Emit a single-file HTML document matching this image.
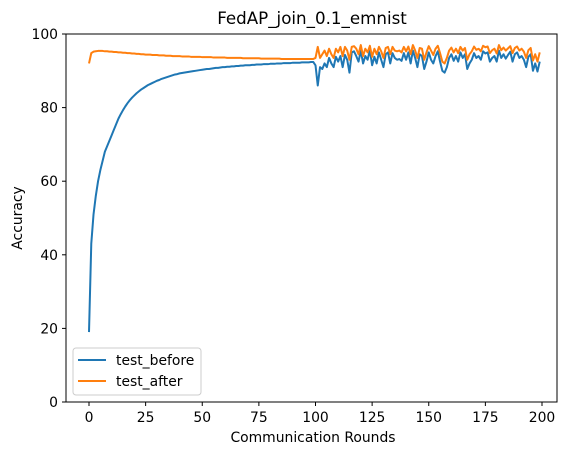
<!DOCTYPE html>
<html><head><meta charset="utf-8"><style>
body{margin:0;background:#fff;font-family:"Liberation Sans","DejaVu Sans",sans-serif;}
svg text{font-family:"DejaVu Sans","Liberation Sans",sans-serif;}
</style></head><body>
<svg id="chart" width="571" height="455" xmlns="http://www.w3.org/2000/svg">
<rect width="571" height="455" fill="#fff"/>
<text x="312" y="24" font-size="16.7" text-anchor="middle">FedAP_join_0.1_emnist</text>
<g id="plot"></g>
<rect x="66" y="34" width="491" height="368" fill="none" stroke="#000" stroke-width="1"/>
<g id="xt"></g>
<g id="yt"></g>
<text x="313" y="442" font-size="13.9" text-anchor="middle">Communication Rounds</text>
<text transform="translate(22,218) rotate(-90)" font-size="13.9" text-anchor="middle">Accuracy</text>
<g>
<rect x="73" y="348" width="128" height="47" rx="3" fill="#fff" fill-opacity="0.8" stroke="#ccc"/>
<line x1="78" y1="360" x2="106" y2="360" stroke="#1f77b4" stroke-width="2"/>
<text x="116" y="365" font-size="13.9">test_before</text>
<line x1="78" y1="381" x2="106" y2="381" stroke="#ff7f0e" stroke-width="2"/>
<text x="116" y="386" font-size="13.9">test_after</text>
</g>
</svg>
<script>
const xTicks=[0,25,50,75,100,125,150,175,200];
const yTicks=[0,20,40,60,80,100];
const beforeVals=[19,43,51,56,60,63,65.5,68,69.5,71,72.5,74,75.5,77,78.2,79.3,80.3,81.2,82,82.7,83.3,83.9,84.4,84.9,85.3,85.7,86.1,86.4,86.7,87,87.3,87.5,87.8,88,88.2,88.4,88.6,88.8,89,89.1,89.3,89.4,89.5,89.6,89.7,89.8,89.9,90,90.1,90.2,90.3,90.4,90.5,90.5,90.6,90.7,90.8,90.8,90.9,91,91,91.1,91.1,91.2,91.2,91.3,91.3,91.4,91.4,91.5,91.5,91.5,91.6,91.6,91.7,91.7,91.7,91.8,91.8,91.8,91.9,91.9,91.9,92,92,92,92.1,92.1,92.1,92.1,92.2,92.2,92.2,92.2,92.3,92.3,92.3,92.3,92.4,92.4,
91.5,86,91,90.5,92,91,93.5,92,91,93.8,92.5,94,91,94.3,93,89.5,95,95.3,94,92.5,95.5,92,94,93,95.6,91.5,93.8,92,95,93,91,94.5,95,92,94.8,93.5,93,93.2,92.7,94.8,93,95,92,95.5,93.5,91,94.5,94,90.5,92.5,95,93,92,94,95.3,92.5,90,89.5,91,93.5,94.5,92.7,94,92.5,95,93.5,94.5,90.5,92,93,94.8,93.5,94,93,95.3,94.7,95,92.5,93.5,94,92.5,95.5,93.5,94.5,93.3,94.3,95.2,92.5,94.5,95,93.5,94,93,91,93.8,94.5,90,92,89.8,92.5,90,93.8,91,93.5,89.5,93,92.5,95.5,90];
const afterVals=[92,94.8,95.2,95.3,95.4,95.4,95.4,95.3,95.3,95.2,95.2,95.1,95.1,95,95,94.9,94.9,94.8,94.8,94.7,94.7,94.6,94.6,94.5,94.5,94.4,94.4,94.4,94.3,94.3,94.3,94.2,94.2,94.2,94.1,94.1,94.1,94,94,94,94,93.9,93.9,93.9,93.9,93.8,93.8,93.8,93.8,93.8,93.7,93.7,93.7,93.7,93.7,93.6,93.6,93.6,93.6,93.6,93.6,93.5,93.5,93.5,93.5,93.5,93.5,93.5,93.4,93.4,93.4,93.4,93.4,93.4,93.4,93.4,93.3,93.3,93.3,93.3,93.3,93.3,93.3,93.3,93.3,93.2,93.2,93.2,93.2,93.2,93.2,93.2,93.2,93.2,93.2,93.2,93.2,93.2,93.2,93.2,
93.5,96.5,93.5,94.5,95.5,94,96,94.5,93.5,96,95,96.5,94,96.5,95.5,93,96.5,96.7,96,94.5,97,94,96,95,96.8,93.8,96,94.5,96.5,95.3,93.5,96.2,96.5,94.5,96.5,95.5,95.3,95.5,95,96.5,95.3,96.6,94.5,97,95.5,93.5,96.2,96,93,95,96.7,95.5,94.3,96,96.8,94.8,92.5,92,93.5,95.5,96.3,95,96,94.8,96.5,95.5,96.2,93,94.5,95.3,96.6,95.7,96,95.3,96.8,96.4,96.6,94.8,95.6,96,94.7,97,95.6,96.3,95.5,96.1,96.7,94.8,96.2,96.6,95.5,96,95.2,93.5,95.6,96.2,92.8,94.5,92.5,95,92.8,95.6,93.5,95.4,92.2,95,94.6,97,92.8];
const X0=66,X1=557,Y0=402,Y1=34;
const xs=v=>89+(v-0)*(542-89)/200;
const ys=v=>Y0-(v-0)*(Y0-Y1)/100;
const NS='http://www.w3.org/2000/svg';
function mk(tag,attrs,parent){const e=document.createElementNS(NS,tag);for(const k in attrs)e.setAttribute(k,attrs[k]);parent.appendChild(e);return e;}
const xt=document.getElementById('xt'),yt=document.getElementById('yt'),plot=document.getElementById('plot');
xTicks.forEach(t=>{
 const l=mk('line',{x1:xs(t),x2:xs(t),y1:Y0,y2:Y0+4,stroke:'#000'},xt);
 
 
 const tx=mk('text',{x:xs(t),y:Y0+20,'font-size':13.9,'text-anchor':'middle'},xt);tx.textContent=t;
 
 
});
yTicks.forEach(t=>{
 const l=mk('line',{x1:X0-4,x2:X0,y1:ys(t),y2:ys(t),stroke:'#000'},yt);
 
 
 const tx=mk('text',{x:X0-8,y:ys(t)+5,'font-size':13.9,'text-anchor':'end'},yt);tx.textContent=t;
 
 
});
function line(vals,color,name){
 const d=vals.slice(0,200).map((v,i)=>(i?'L':'M')+xs(i).toFixed(2)+','+ys(v).toFixed(2)).join('');
 const p=mk('path',{d:d,fill:'none',stroke:color,'stroke-width':2,'stroke-linejoin':'round'},plot);
 
 
}
line(beforeVals,'#1f77b4','test-before-line');
line(afterVals,'#ff7f0e','test-after-line');
</script>
</body></html>
